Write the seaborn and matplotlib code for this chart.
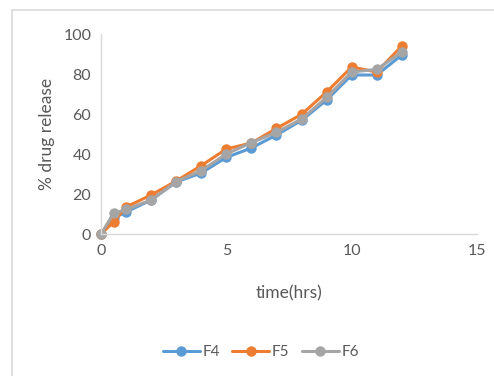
import matplotlib
matplotlib.use("Agg")
import matplotlib.pyplot as plt
import seaborn as sns
import pandas as pd
from matplotlib.lines import Line2D

time_hrs = [0, 0.5, 1, 2, 3, 4, 5, 6, 7, 8, 9, 10, 11, 12]
f4 = [0, 8, 11, 17, 26, 30.5, 38.3, 43, 49.5, 56.8, 67, 79.5, 79.5, 89.5]
f5 = [0, 6, 13.5, 19.5, 26.5, 34.2, 42.5, 45.5, 52.8, 59.8, 71, 83.5, 81, 94]
f6 = [0, 10.3, 12.3, 17, 26.2, 31.7, 40, 45.7, 50.8, 57.5, 68.3, 81, 82.3, 91]
series_names = ["F4", "F5", "F6"]
colors = ["#5B9BD5", "#ED7D31", "#A5A5A5"]

rows = []
for name, vals in zip(series_names, [f4, f5, f6]):
    for t, v in zip(time_hrs, vals):
        rows.append({"time": t, "release": v, "series": name})
df = pd.DataFrame(rows)

sns.set_theme(style="white")
plt.rcParams["font.family"] = ["Lato", "DejaVu Sans"]

fig = plt.figure(figsize=(4.94, 3.76), dpi=100)
ax = fig.add_axes([101/494, 1-234/376, (477-101)/494, (234-34)/376])

sns.lineplot(data=df, x="time", y="release", hue="series", palette=colors,
             marker="o", markersize=7.5, markeredgewidth=0, linewidth=2.2,
             ax=ax, legend=False, sort=False, clip_on=False)

ax.set_xlim(0, 15)
ax.set_ylim(0, 100)
ax.set_xticks([0, 5, 10, 15])
ax.set_yticks([0, 20, 40, 60, 80, 100])
ax.tick_params(axis="both", colors="#595959", labelsize=11.5, length=0, pad=7)
for s in ["top", "right"]:
    ax.spines[s].set_visible(False)
for s in ["left", "bottom"]:
    ax.spines[s].set_color("#D9D9D9")
    ax.spines[s].set_linewidth(1)
ax.set_xlabel("time(hrs)", color="#595959", fontsize=12.5, labelpad=20)
ax.set_ylabel("% drug release", color="#595959", fontsize=12.5, labelpad=6)

handles = [Line2D([0], [0], color=c, linewidth=2.2, marker="o", markersize=7.5,
                  markeredgewidth=0) for c in colors]
fig.legend(handles, series_names, loc="center", bbox_to_anchor=(261/494, 1-352/376),
           ncol=3, frameon=False, fontsize=11, labelcolor="#595959",
           handlelength=2.4, handletextpad=0.2, columnspacing=0.8, numpoints=1)

# chart border (left and top edges visible)
fig.add_artist(Line2D([12/494, 12/494], [0, 1-10/376], transform=fig.transFigure,
                      color="#D9D9D9", linewidth=1.2))
fig.add_artist(Line2D([12/494, 1], [1-10/376, 1-10/376], transform=fig.transFigure,
                      color="#D9D9D9", linewidth=1.2))

fig.savefig("out.png", dpi=100)
